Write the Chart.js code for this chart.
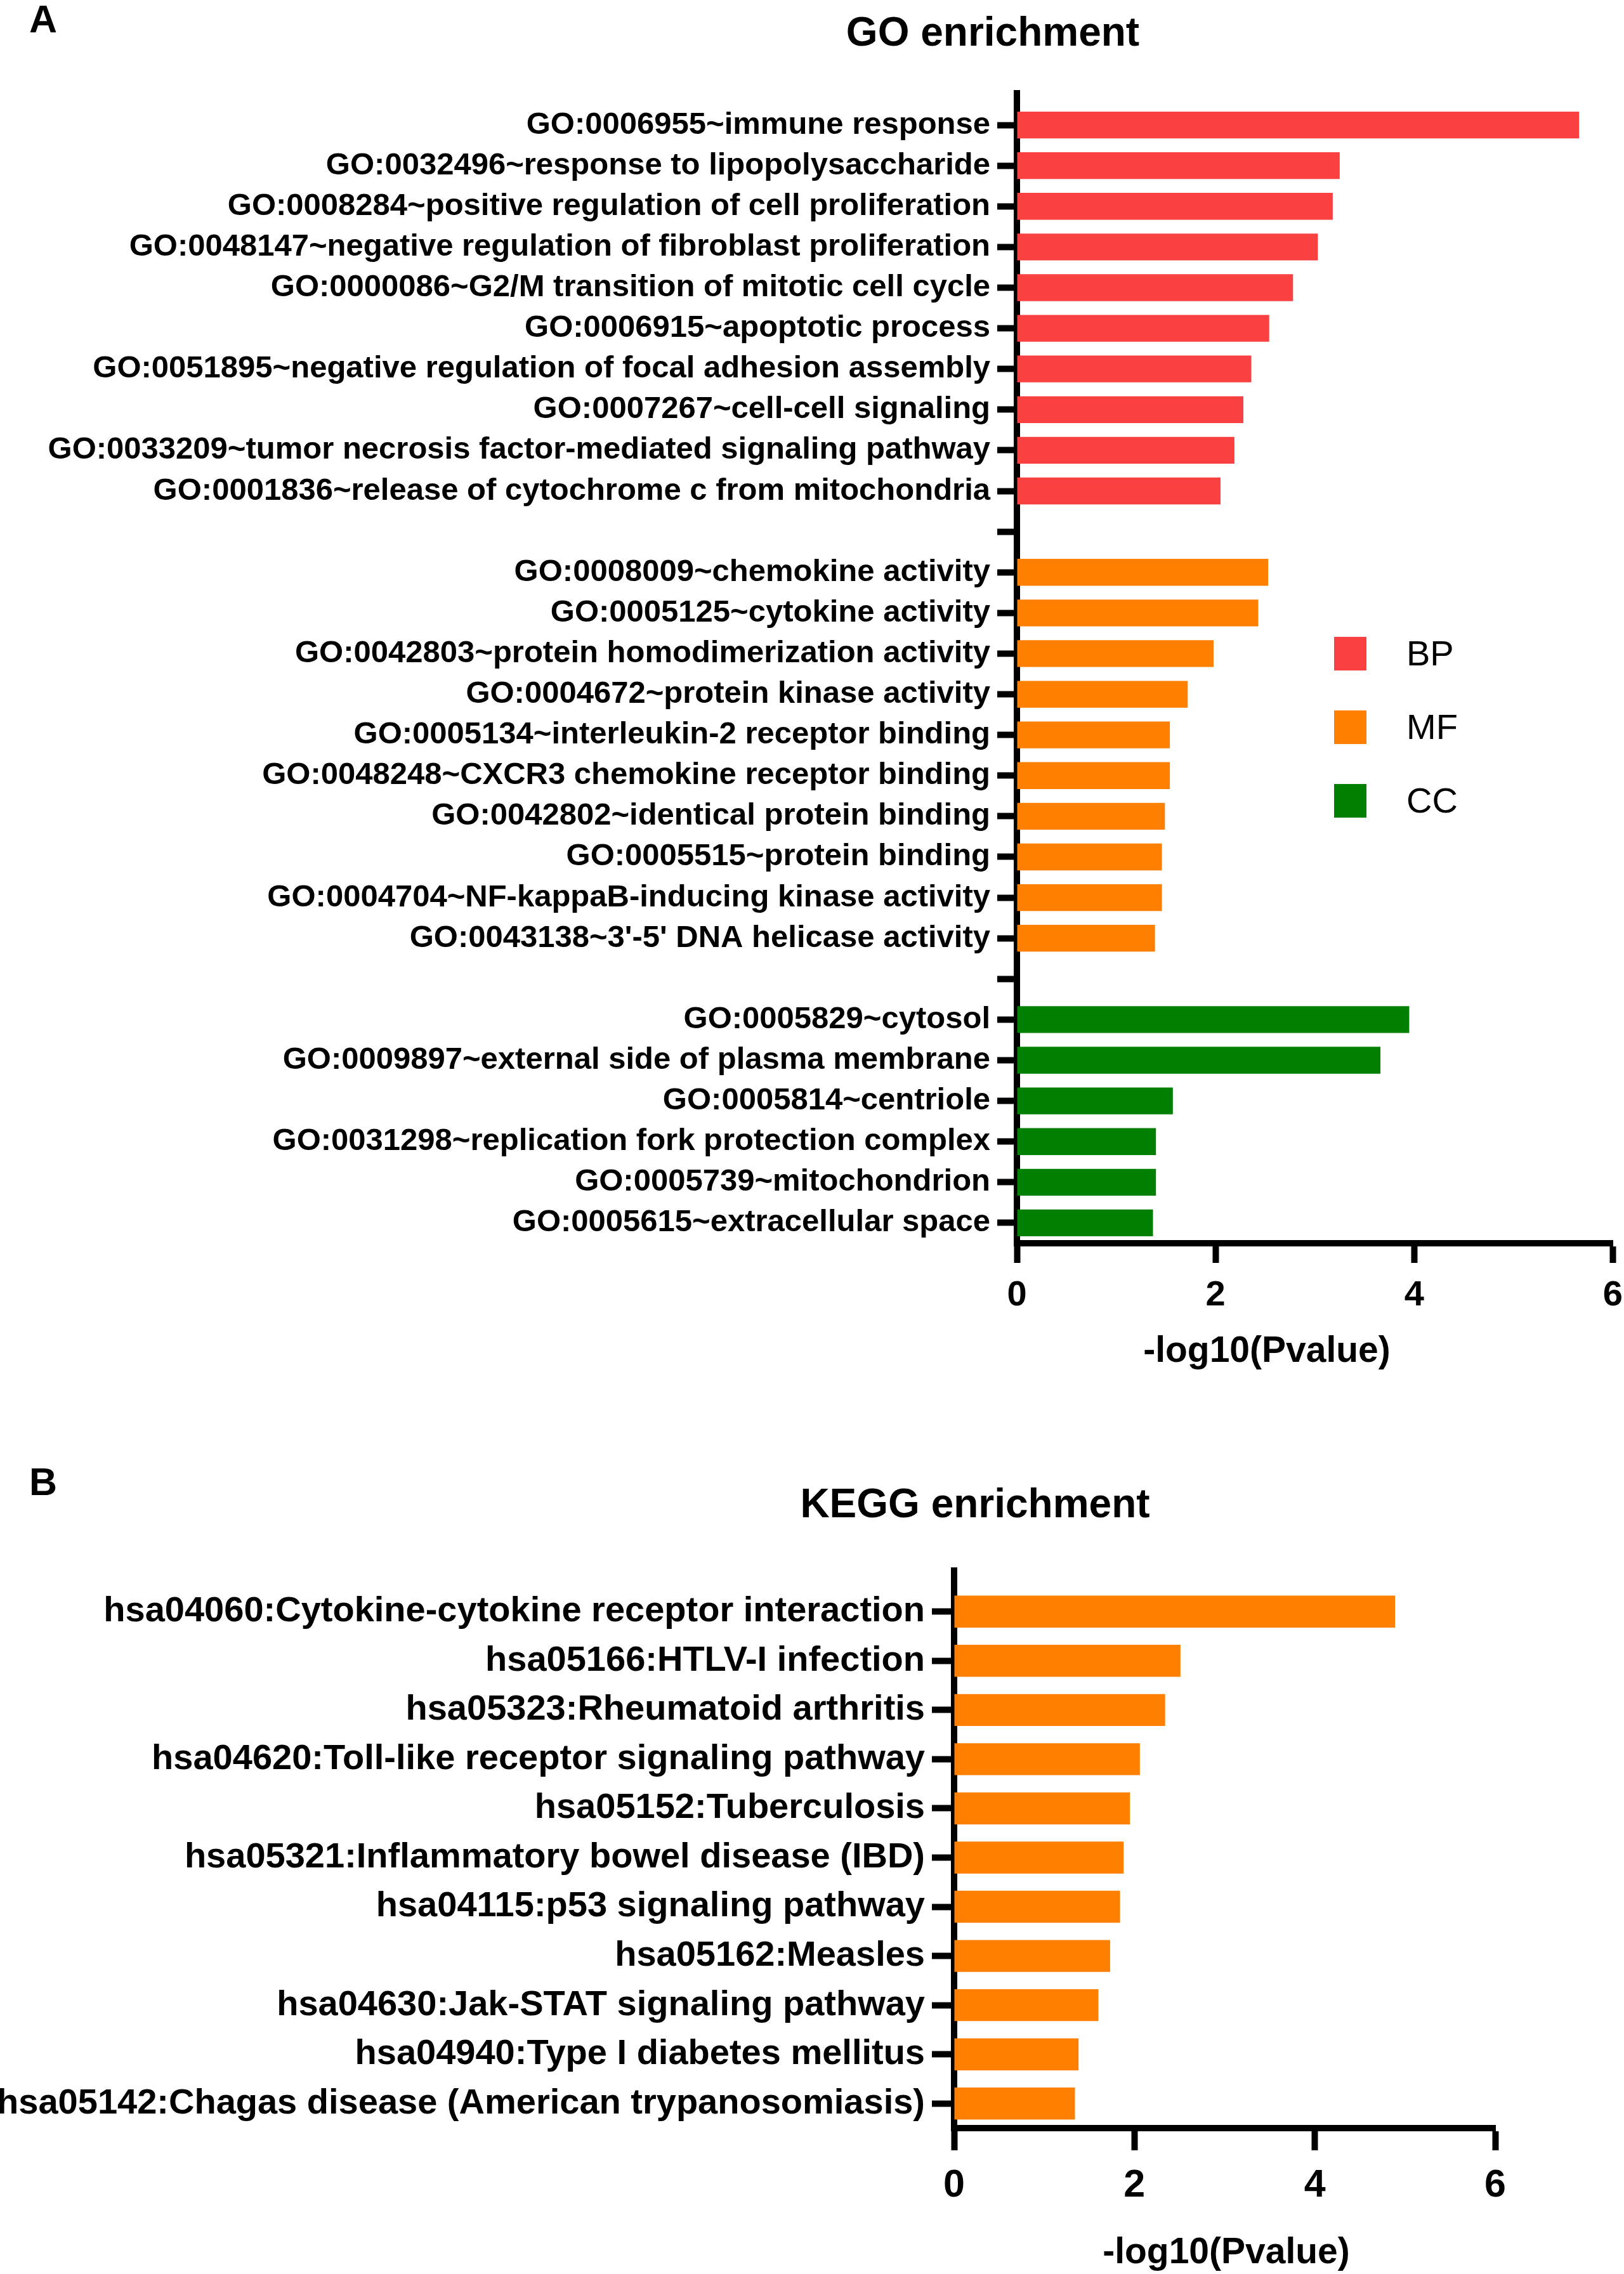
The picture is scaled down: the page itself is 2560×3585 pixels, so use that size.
<!DOCTYPE html>
<html>
<head>
<meta charset="utf-8">
<script src="https://cdn.jsdelivr.net/npm/chart.js@4.4.1/dist/chart.umd.min.js"></script>
<style>
body { margin: 0; background: #fff; width: 2560px; height: 3585px; position: relative; overflow: hidden; font-family: 'Liberation Sans', Arial, sans-serif; }
.box { position: absolute; left: 0; }
.txt { position: absolute; color: #000; white-space: nowrap; line-height: 1; transform: translate(-50%, -50%); }
.b { font-weight: bold; }
.key { position: absolute; width: 51px; height: 53px; }
.keytxt { position: absolute; font-size: 56px; line-height: 1; transform: translateY(-50%); }
</style>
</head>
<body>
<div class="txt b" style="left:68px;top:30px;font-size:61px">A</div>
<div class="txt b" style="left:1565px;top:50px;font-size:64px">GO enrichment</div>
<div class="box" style="top:0;width:2576px;height:2070px"><canvas id="go-bar"></canvas></div>
<div class="txt b" style="left:1997px;top:2127px;font-size:57px">-log10(Pvalue)</div>
<div id="go-legend"></div>

<div class="txt b" style="left:68px;top:2336px;font-size:61px">B</div>
<div class="txt b" style="left:1537px;top:2370px;font-size:64px">KEGG enrichment</div>
<div class="box" style="top:2400px;width:2560px;height:1075px"><canvas id="kegg-bar"></canvas></div>
<div class="txt b" style="left:1933px;top:3548px;font-size:57px">-log10(Pvalue)</div>

<script>
// GO terms, top to bottom
var bpTerms = ['GO:0006955~immune response', 'GO:0032496~response to lipopolysaccharide', 'GO:0008284~positive regulation of cell proliferation', 'GO:0048147~negative regulation of fibroblast proliferation', 'GO:0000086~G2/M transition of mitotic cell cycle', 'GO:0006915~apoptotic process', 'GO:0051895~negative regulation of focal adhesion assembly', 'GO:0007267~cell-cell signaling', 'GO:0033209~tumor necrosis factor-mediated signaling pathway', 'GO:0001836~release of cytochrome c from mitochondria'];
var bpValues = [5.66, 3.25, 3.18, 3.03, 2.78, 2.54, 2.36, 2.28, 2.19, 2.05];

var mfTerms = ['GO:0008009~chemokine activity', 'GO:0005125~cytokine activity', 'GO:0042803~protein homodimerization activity', 'GO:0004672~protein kinase activity', 'GO:0005134~interleukin-2 receptor binding', 'GO:0048248~CXCR3 chemokine receptor binding', 'GO:0042802~identical protein binding', 'GO:0005515~protein binding', 'GO:0004704~NF-kappaB-inducing kinase activity', "GO:0043138~3'-5' DNA helicase activity"];
var mfValues = [2.53, 2.43, 1.98, 1.72, 1.54, 1.54, 1.49, 1.46, 1.46, 1.39];

var ccTerms = ['GO:0005829~cytosol', 'GO:0009897~external side of plasma membrane', 'GO:0005814~centriole', 'GO:0031298~replication fork protection complex', 'GO:0005739~mitochondrion', 'GO:0005615~extracellular space'];
var ccValues = [3.95, 3.66, 1.57, 1.40, 1.40, 1.37];

var keggTerms = ['hsa04060:Cytokine-cytokine receptor interaction', 'hsa05166:HTLV-I infection', 'hsa05323:Rheumatoid arthritis', 'hsa04620:Toll-like receptor signaling pathway', 'hsa05152:Tuberculosis', 'hsa05321:Inflammatory bowel disease (IBD)', 'hsa04115:p53 signaling pathway', 'hsa05162:Measles', 'hsa04630:Jak-STAT signaling pathway', 'hsa04940:Type I diabetes mellitus', 'hsa05142:Chagas disease (American trypanosomiasis)'];
var keggValues = [4.89, 2.51, 2.34, 2.06, 1.95, 1.88, 1.84, 1.73, 1.60, 1.38, 1.34];

var groupNames = ['BP', 'MF', 'CC'];
var groupColors = ['#F94141', '#FF8000', '#007F00'];

Chart.defaults.font.family = "'Liberation Sans', Arial, sans-serif";
Chart.defaults.color = '#000';

// empty category between groups, keeps its tick
var goLabels = bpTerms.concat([''], mfTerms, [''], ccTerms);
var nBP = bpTerms.length, nMF = mfTerms.length, nCC = ccTerms.length;
function pad(before, vals, after) {
    return new Array(before).fill(null).concat(vals, new Array(after).fill(null));
}
var goSets = [
    pad(0, bpValues, nMF + nCC + 2),
    pad(nBP + 1, mfValues, nCC + 1),
    pad(nBP + nMF + 2, ccValues, 0)
];

// y axis line goes a bit above the first bar
var axisExtend = {
    id: 'axisExtend',
    afterDraw: function (chart, args, opts) {
        var a = chart.chartArea, ctx = chart.ctx;
        ctx.save();
        ctx.strokeStyle = '#000';
        ctx.lineWidth = 10;
        ctx.beginPath();
        ctx.moveTo(a.left, a.top - opts.top);
        ctx.lineTo(a.left, a.top);
        ctx.stroke();
        ctx.restore();
    }
};

function makeOptions(o) {
    return {
        indexAxis: 'y',
        responsive: true,
        maintainAspectRatio: false,
        animation: false,
        layout: { padding: { top: o.top, right: o.right, left: 0, bottom: 0 } },
        plugins: {
            legend: { display: false },
            tooltip: { enabled: false },
            axisExtend: { top: o.ext }
        },
        scales: {
            x: {
                min: 0,
                max: 6,
                ticks: { stepSize: 2, padding: o.xPad, font: { size: o.xFont, weight: 'bold' } },
                grid: { drawOnChartArea: false, tickLength: o.tick, tickWidth: 10, tickColor: '#000' },
                border: { width: 10, color: '#000' },
                afterFit: function (s) { s.height = o.xHeight; }
            },
            y: {
                ticks: { autoSkip: false, padding: 11, font: { size: o.yFont, weight: 'bold' } },
                grid: { offset: false, drawOnChartArea: false, tickLength: o.tick, tickWidth: 10, tickColor: '#000' },
                border: { width: 10, color: '#000' },
                afterFit: function (s) { s.width = o.axisX; }
            }
        }
    };
}

new Chart(document.getElementById('go-bar'), {
    type: 'bar',
    data: {
        labels: goLabels,
        datasets: groupNames.map(function (g, i) {
            return { label: g, data: goSets[i], backgroundColor: groupColors[i], grouped: false, categoryPercentage: 1, barPercentage: 0.66 };
        })
    },
    options: makeOptions({ top: 165, right: 2, ext: 23, axisX: 1603, xHeight: 110, xPad: 18, xFont: 56, yFont: 49, tick: 31 }),
    plugins: [axisExtend]
});

new Chart(document.getElementById('kegg-bar'), {
    type: 'bar',
    data: {
        labels: keggTerms,
        datasets: [{ label: 'KEGG', data: keggValues, backgroundColor: groupColors[1], categoryPercentage: 1, barPercentage: 0.65 }]
    },
    options: makeOptions({ top: 102, right: 203, ext: 31, axisX: 1504, xHeight: 120, xPad: 20, xFont: 61, yFont: 56, tick: 35 }),
    plugins: [axisExtend]
});

// legend for the GO panel
var legendTop = [1030, 1146, 1262];
var leg = document.getElementById('go-legend');
groupNames.forEach(function (g, i) {
    var sq = document.createElement('div');
    sq.className = 'key';
    sq.style.left = '2103px';
    sq.style.top = (legendTop[i] - 26) + 'px';
    sq.style.background = groupColors[i];
    leg.appendChild(sq);
    var t = document.createElement('div');
    t.className = 'keytxt';
    t.style.left = '2217px';
    t.style.top = legendTop[i] + 'px';
    t.textContent = g;
    leg.appendChild(t);
});
</script>
</body>
</html>
